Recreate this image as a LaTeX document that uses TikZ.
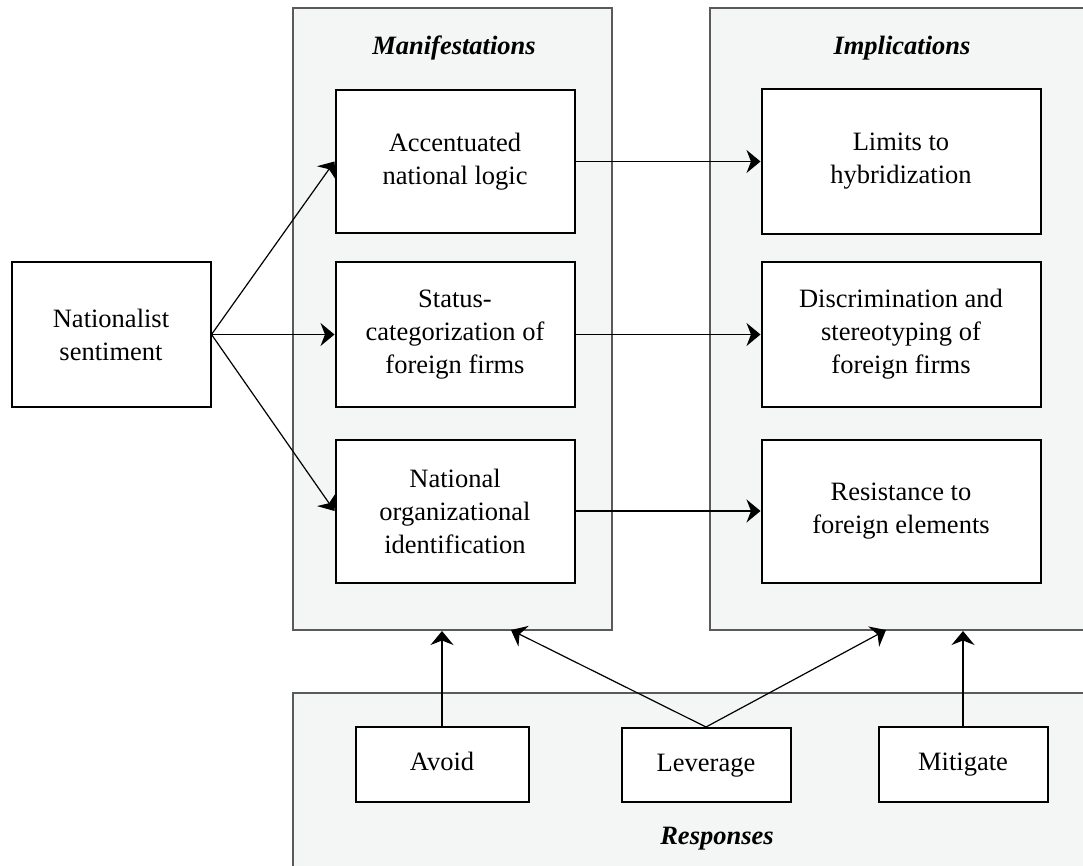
\documentclass[tikz,border=0pt]{standalone}
\usepackage{fontspec}
\setmainfont{Liberation Serif}
\usetikzlibrary{arrows.meta,positioning,calc}

\definecolor{panelfill}{HTML}{F4F5F5}
\definecolor{panelline}{HTML}{5A5A5A}

\tikzset{
  panel/.style={draw=panelline,line width=2pt,fill=panelfill,inner sep=0pt},
  box/.style={draw,line width=2pt,fill=white,align=center,inner sep=0pt,
    font=\fontsize{26.5}{33}\selectfont},
  resbox/.style={box,text height=18pt,text depth=6pt},
  paneltitle/.style={font=\fontsize{26.5}{33}\selectfont\bfseries\itshape},
  link/.style={-{Stealth[length=14pt,width=23pt,inset=4.5pt]},line width=1.2pt},
}

\begin{document}
\begin{tikzpicture}[x=1pt,y=-1pt]
  \useasboundingbox (0,0) rectangle (1083,866);
  \clip (0,0) rectangle (1083,866);
  % Define the three grey panels
  \path (452.5,319) node[panel,minimum width=319pt,minimum height=622pt] (manif) {};
  \path (905,319) node[panel,minimum width=390pt,minimum height=622pt] (impl) {};
  \path (700,800) node[panel,minimum width=814pt,minimum height=214pt] (resp) {};
  \path (454,48) node[paneltitle] (manifT) {Manifestations};
  \path (902,48) node[paneltitle] (implT) {Implications};
  \path (717,839) node[paneltitle] (respT) {Responses};
  % Define the boxes
  \path (111,334.5) node[box,minimum width=199pt,minimum height=145pt] (nat) {Nationalist\\sentiment};
  \path (455,161.5) node[box,minimum width=239pt,minimum height=143pt] (acc) {Accentuated\\national logic};
  \path (455,334.5) node[box,minimum width=239pt,minimum height=145pt] (stat) {Status-\\categorization of\\foreign firms};
  \path (455,511) node[box,minimum width=239pt,minimum height=143pt] (org) {National\\organizational\\identification};
  \path (901,161.5) node[box,minimum width=279pt,minimum height=145pt] (lim) {Limits to\\hybridization};
  \path (901,334.5) node[box,minimum width=279pt,minimum height=145pt] (disc) {Discrimination and\\stereotyping of\\foreign firms};
  \path (901,511) node[box,minimum width=279pt,minimum height=143pt] (resist) {Resistance to\\foreign elements};
  \path (442,764.5) node[resbox,minimum width=173pt,minimum height=75pt] (avoid) {Avoid};
  \path (706,765) node[resbox,minimum width=169pt,minimum height=74pt] (lev) {Leverage};
  \path (963,764.5) node[resbox,minimum width=169pt,minimum height=75pt] (mit) {Mitigate};
  % Ends of the response arrows
  \coordinate (levM) at (511,630);
  \coordinate (levI) at (886,630);
  % Draw the arrows
  \draw[link] (nat.east) -- (acc.west);
  \draw[link] (nat.east) -- (stat.west);
  \draw[link] (nat.east) -- (org.west);
  \draw[link] (acc.east) -- (lim.west);
  \draw[link] (stat.east) -- (disc.west);
  \draw[link] (org.east) -- (resist.west);
  \draw[link] (avoid.north) -- (avoid.north |- manif.south);
  \draw[link] (lev.north) -- (levM);
  \draw[link] (lev.north) -- (levI);
  \draw[link] (mit.north) -- (mit.north |- impl.south);
\end{tikzpicture}
\end{document}
